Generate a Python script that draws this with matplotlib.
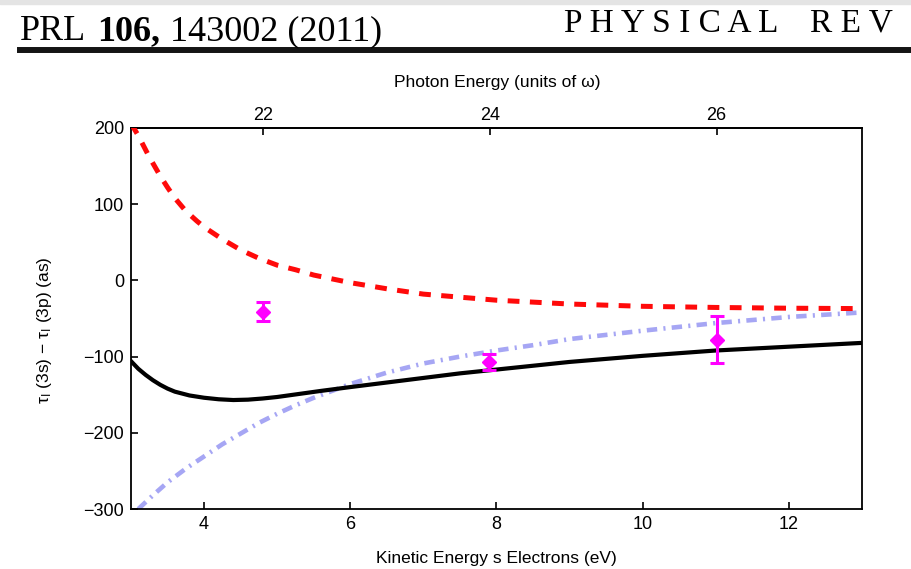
import numpy as np
import matplotlib
matplotlib.use("Agg")
import matplotlib.pyplot as plt
from matplotlib.lines import Line2D
from matplotlib.patches import Rectangle

# Theory curves: kinetic energy of 3s electrons (eV) vs delay difference (as)
red_ke = [3.0, 3.1, 3.25, 3.4, 3.5, 3.6, 3.75, 3.9, 4.0, 4.25, 4.5, 4.75, 5.0,
          5.25, 5.5, 6.0, 6.5, 7.0, 7.5, 8.0, 9.0, 10.0, 11.0, 12.0, 13.0]
red_tau = [206, 190, 162, 137, 122, 108, 91, 78, 70, 54, 40, 29, 20,
           14, 7, -3, -11, -18, -22, -26, -31, -34, -35.5, -36.5, -37]

black_ke = [3.0, 3.1, 3.2, 3.3, 3.4, 3.5, 3.6, 3.8, 4.0, 4.2, 4.4, 4.6, 4.8,
            5.0, 5.3, 5.6, 6.0, 6.5, 7.0, 7.5, 8.0, 9.0, 10.0, 11.0, 12.0, 13.0]
black_tau = [-106, -116, -124, -131, -137, -142, -146, -151, -154, -156, -157, -156.5, -155,
             -153, -149, -145, -140, -134, -128, -122, -117, -107, -99, -92, -87, -82]

blue_ke = [3.1, 3.3, 3.5, 3.75, 4.0, 4.25, 4.5, 4.75, 5.0, 5.25, 5.5, 5.75,
           6.0, 6.5, 7.0, 7.5, 8.0, 8.5, 9.0, 10.0, 11.0, 12.0, 13.0]
blue_tau = [-300, -282, -265, -247, -231, -215, -201, -187, -175, -164, -154, -145,
            -136, -121, -109, -100, -92, -85, -77, -66, -56, -48, -42]

# Measured points with error bars
exp_ke = [4.81, 7.90, 11.01]
exp_tau = [-41, -107, -78]
exp_err = [12, 11, 31]

y_ticks = [-300, -200, -100, 0, 100, 200]
x_ticks = [4, 6, 8, 10, 12]
harmonic_ticks = [22, 24, 26]

omega = 1.55   # eV
ip_3s = 29.29  # eV


def ke_to_harm(ke):
    return (np.asarray(ke) + ip_3s) / omega


def harm_to_ke(n):
    return np.asarray(n) * omega - ip_3s


plt.rcParams['font.family'] = ['Liberation Sans', 'DejaVu Sans']
plt.rcParams['mathtext.fontset'] = 'custom'
plt.rcParams['mathtext.rm'] = 'Liberation Sans'
plt.rcParams['mathtext.it'] = 'Liberation Sans:italic'
plt.rcParams['lines.scale_dashes'] = False

fig = plt.figure(figsize=(9.12, 5.69), dpi=100)
W, H = 912, 569

# page header
fig.patches.append(Rectangle((0, 1 - 4 / H), 1, 4 / H, transform=fig.transFigure,
                             color='#e4e4e4', zorder=0))
serif = 'Liberation Serif'
base = 1 - 40 / H
fig.text(20 / W, base, 'PRL', family=serif, fontsize=26, va='baseline')
fig.text(97 / W, base, '106,', family=serif, fontsize=26, weight='bold', va='baseline')
fig.text(170 / W, base, '143002 (2011)', family=serif, fontsize=26, va='baseline')
fig.text(564 / W, 1 - 32 / H, 'P H Y S I C A L', family=serif, fontsize=24, va='baseline')
fig.text(810 / W, 1 - 32 / H, 'R E V', family=serif, fontsize=24, va='baseline')
fig.add_artist(Line2D([20 / W, 1], [1 - 50 / H, 1 - 50 / H], transform=fig.transFigure,
                      lw=4.3, color='#151515'))

ax = fig.add_axes([131 / W, 60 / H, 731 / W, 381 / H])

ax.plot(blue_ke, blue_tau, color='#a6a6f4', lw=3.3, dashes=(7.5, 4.5, 1.5, 4.5), zorder=2)
ax.plot(black_ke, black_tau, color='black', lw=3.0, zorder=3)
ax.plot(red_ke, red_tau, color='#ff0a0a', lw=3.6, dashes=(8.5, 7.5), zorder=3)
ax.errorbar(exp_ke, exp_tau, yerr=exp_err, fmt='D', color='#ff00ff', ms=7.5,
            elinewidth=2.2, capsize=5, capthick=2.2, zorder=4)

ax.set_xlim(3, 13)
ax.set_ylim(-300, 200)
ax.set_xticks(x_ticks)
ax.set_yticks(y_ticks)
ax.tick_params(direction='in', length=5, width=1.2, labelsize=13, pad=5,
               top=False, right=False)
for sp in ax.spines.values():
    sp.set_linewidth(1.3)

ax.set_xlabel('Kinetic Energy s Electrons (eV)', fontsize=12.5)
ax.xaxis.set_label_coords(0.5, -0.11)
ax.set_ylabel('τ$_{\\mathrm{I}}$ (3s) − τ$_{\\mathrm{I}}$ (3p) (as)', fontsize=12.5)
ax.yaxis.set_label_coords(-0.105, 0.47)

top = ax.secondary_xaxis('top', functions=(ke_to_harm, harm_to_ke))
top.set_xticks(harmonic_ticks)
top.tick_params(direction='in', length=5, width=1.2, labelsize=13, pad=3)
top.spines['top'].set_linewidth(1.3)
fig.text(497 / W, 1 - 82 / H, 'Photon Energy (units of ω)', fontsize=12.5,
         ha='center', va='center')

fig.savefig('out.png', dpi=100)
